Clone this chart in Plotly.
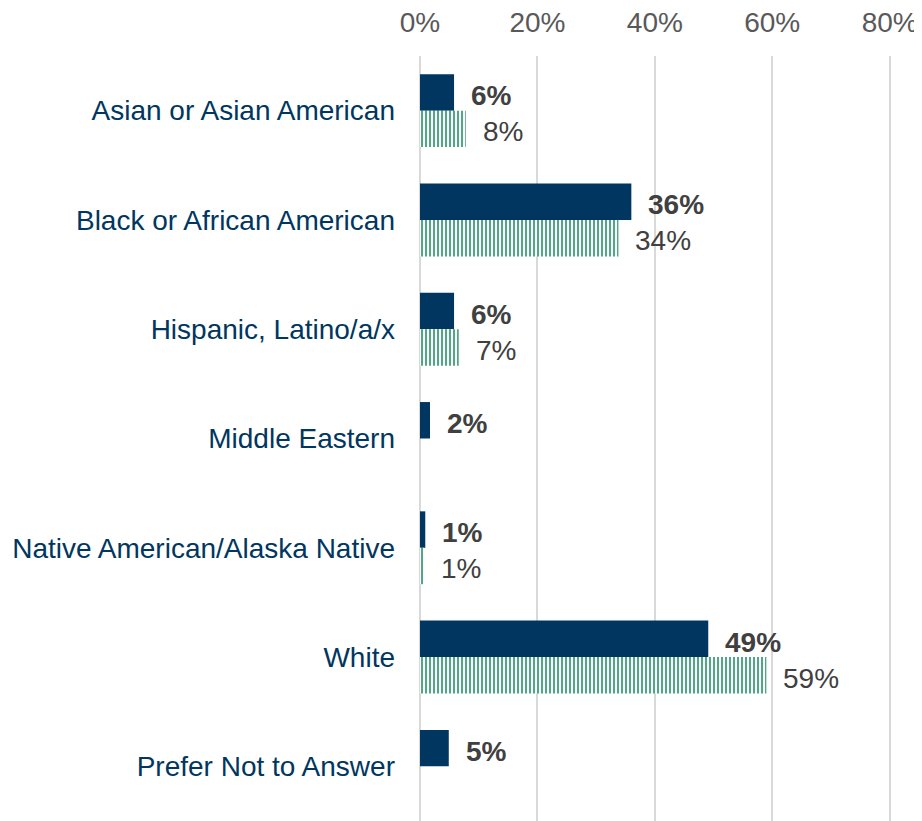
import plotly.graph_objects as go

categories = ["Asian or Asian American", "Black or African American", "Hispanic, Latino/a/x",
              "Middle Eastern", "Native American/Alaska Native", "White", "Prefer Not to Answer"]
series_a = [0.058, 0.36, 0.058, 0.017, 0.009, 0.491, 0.049]
series_a_labels = ["6%", "36%", "6%", "2%", "1%", "49%", "5%"]
series_b = [0.078, 0.338, 0.066, None, 0.007, 0.59, None]
series_b_labels = ["8%", "34%", "7%", "", "1%", "59%", ""]
x_ticks = [0, 0.2, 0.4, 0.6, 0.8]
x_tick_labels = ["0%", "20%", "40%", "60%", "80%"]

BLUE = "#003660"
GREEN = "#4ea883"
FONT = "Liberation Sans, Arial, sans-serif"

fig = go.Figure()
fig.add_trace(go.Bar(y=categories, x=series_a, orientation="h", marker=dict(color=BLUE, line=dict(width=0)),
                     hoverinfo="skip"))
fig.add_trace(go.Bar(y=categories, x=series_b, orientation="h",
                     marker=dict(color=GREEN, line=dict(width=0),
                                 pattern=dict(shape="|", bgcolor="white", fgcolor=GREEN, size=4, solidity=0.5,
                                              fillmode="replace")),
                     hoverinfo="skip"))

annotations = []
for i, c in enumerate(categories):
    if series_a[i] is not None:
        annotations.append(dict(x=series_a[i], y=c, text=f"<b>{series_a_labels[i]}</b>", showarrow=False,
                                xanchor="left", yanchor="middle", xshift=15, yshift=15,
                                font=dict(family=FONT, size=28, color="#404040")))
    if series_b[i] is not None:
        annotations.append(dict(x=series_b[i], y=c, text=series_b_labels[i], showarrow=False,
                                xanchor="left", yanchor="middle", xshift=15, yshift=-21,
                                font=dict(family=FONT, size=28, color="#404040")))

fig.update_layout(
    width=914, height=813,
    margin=dict(l=412, r=3, t=48, b=0, autoexpand=False),
    paper_bgcolor="white", plot_bgcolor="white",
    barmode="group", bargap=0.333, bargroupgap=0,
    showlegend=False,
    font=dict(family=FONT),
    annotations=annotations,
    xaxis=dict(side="top", range=[0, 0.85], tickvals=x_ticks, ticktext=x_tick_labels, automargin=False,
               showgrid=True, gridcolor="#d9d9d9", gridwidth=2, zeroline=True, zerolinecolor="#d9d9d9",
               zerolinewidth=2, tickfont=dict(size=28, color="#595959"), ticks="", ticklabelstandoff=17,
               fixedrange=True),
    yaxis=dict(autorange="reversed", tickfont=dict(size=28, color=BLUE), ticks="", ticklabelstandoff=24,
               automargin=False, showgrid=False, showline=False, fixedrange=True),
)

fig.write_html("out.html")
